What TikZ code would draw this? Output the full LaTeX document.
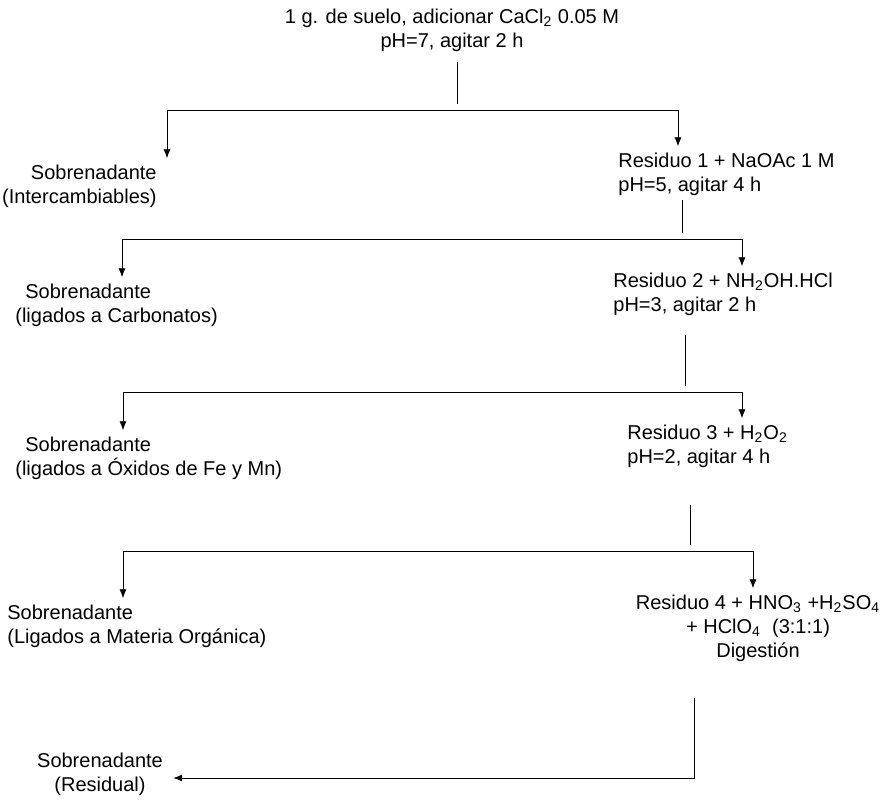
\documentclass[tikz,border=0pt]{standalone}
\usepackage{fontspec}
\setmainfont{Liberation Sans}
\usetikzlibrary{positioning, arrows.meta}
\tikzset{
    x=0.5pt,
    y=-0.5pt,
    line width=1pt,
    >={Latex[length=4.5pt,width=3.5pt]},
    shorten >=3pt,
    every node/.style={inner sep=0pt, font=\fontsize{10}{12}\selectfont},
    paso/.style={align=left, anchor=west},
    sobre/.style={align=left, anchor=west},
}

\begin{document}
\begin{tikzpicture}
    \useasboundingbox (0,0) rectangle (883,801);

    \node[align=center] (r0) at (452,30) {1 g. de suelo, adicionar CaCl\textsubscript{2} 0.05 M\\pH=7, agitar 2 h};
    \node[align=right, anchor=east] (s1) at (157,186) {Sobrenadante\\(Intercambiables)};
    \node[paso] (r1) at (618,174) {Residuo 1 + NaOAc 1 M\\pH=5, agitar 4 h};
    \node[sobre] (s2) at (15,305) {\hspace*{5pt}Sobrenadante\\(ligados a Carbonatos)};
    \node[paso] (r2) at (613,294) {Residuo 2 + NH\textsubscript{2}OH.HCl\\pH=3, agitar 2 h};
    \node[sobre] (s3) at (15,458) {\hspace*{5pt}Sobrenadante\\(ligados a Óxidos de Fe y Mn)};
    \node[paso] (r3) at (627,446) {Residuo 3 + H\textsubscript{2}O\textsubscript{2}\\pH=2, agitar 4 h};
    \node[sobre] (s4) at (7,626) {Sobrenadante\\(Ligados a Materia Orgánica)};
    \node[align=center] (r4) at (758,628) {Residuo 4 + HNO\textsubscript{3} +H\textsubscript{2}SO\textsubscript{4}\\+ HClO\textsubscript{4}~ (3:1:1)\\Digestión};
    \node[align=center] (s5) at (100,774) {Sobrenadante\\(Residual)};

    \coordinate (v1) at (457,62);
    \coordinate (j1) at (457,110);
    \coordinate (l1) at (167,110);
    \coordinate (d1) at (678,110);
    \coordinate (v2) at (682,200);
    \coordinate (j2) at (682,239);
    \coordinate (l2) at (122,239);
    \coordinate (d2) at (742,239);
    \coordinate (v3) at (685,335);
    \coordinate (j3) at (685,392);
    \coordinate (l3) at (123,392);
    \coordinate (d3) at (742,392);
    \coordinate (v4) at (690,505);
    \coordinate (j4) at (690,551);
    \coordinate (l4) at (123,551);
    \coordinate (d4) at (753,551);
    \coordinate (v5) at (694,698);
    \coordinate (j5) at (694,778);

    \draw (v1) -- (j1);
    \draw[->] (j1) -- (l1) -- (l1 |- s1.north);
    \draw[->] (j1) -- (d1) -- (d1 |- r1.north);
    \draw (v2) -- (j2);
    \draw[->] (j2) -- (l2) -- (l2 |- s2.north);
    \draw[->] (j2) -- (d2) -- (d2 |- r2.north);
    \draw (v3) -- (j3);
    \draw[->] (j3) -- (l3) -- (l3 |- s3.north);
    \draw[->] (j3) -- (d3) -- (d3 |- r3.north);
    \draw (v4) -- (j4);
    \draw[->] (j4) -- (l4) -- (l4 |- s4.north);
    \draw[->] (j4) -- (d4) -- (d4 |- r4.north);
    \draw[->, shorten >=5pt] (v5) -- (j5) -- (j5 -| s5.east);
\end{tikzpicture}
\end{document}
